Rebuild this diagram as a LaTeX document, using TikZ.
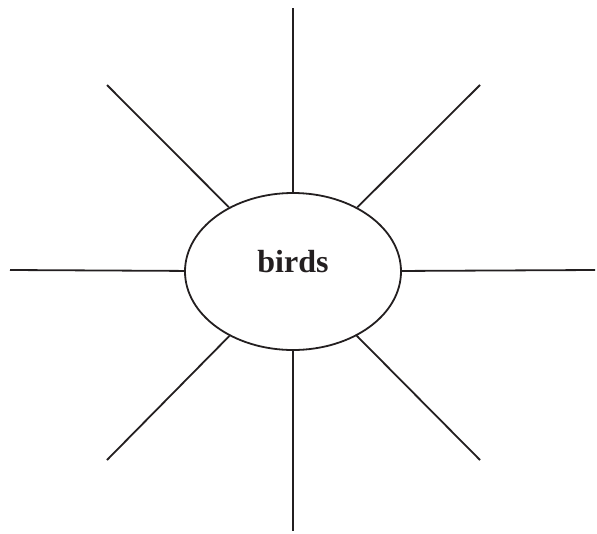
\documentclass[tikz,border=0pt]{standalone}
\usepackage{fontspec}
\setmainfont{Liberation Serif}
\usepackage{tikz}
\usetikzlibrary{shapes.geometric}

\definecolor{ink}{HTML}{231F20}

\begin{document}
\begin{tikzpicture}[x=1pt, y=-1pt,
    topic/.style={draw=ink, text=ink, ellipse, line width=1.8pt, minimum width=216pt, minimum height=157pt, inner sep=0pt,
                  text height=24pt, text depth=23pt, font=\fontsize{32}{38}\selectfont\bfseries},
    spoke/.style={draw=ink, line width=1.8pt},
]
\useasboundingbox (0,0) rectangle (597,533);

\node[topic] (birds) at (293,271.5) {birds};

\coordinate (n)  at (293,8);
\coordinate (s)  at (293,531);
\coordinate (w)  at (10,270);
\coordinate (e)  at (595,270);
\coordinate (nw) at (107,85);
\coordinate (ne) at (480,85);
\coordinate (sw) at (107,460);
\coordinate (se) at (480,460);

\foreach \p in {n,s,w,e,nw,ne,sw,se}
    \draw[spoke] (birds) -- (\p);

\end{tikzpicture}
\end{document}
